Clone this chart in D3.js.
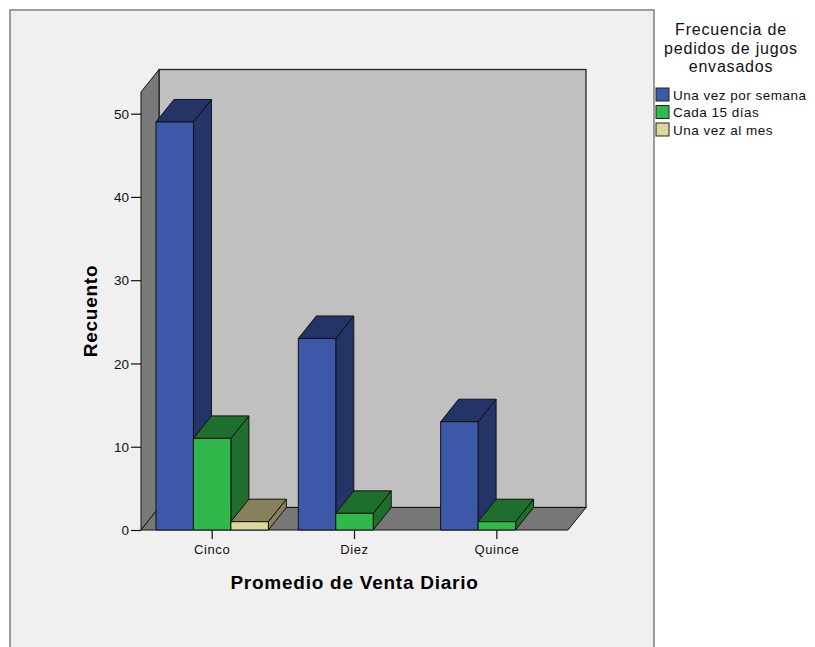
<!DOCTYPE html>
<html>
<head>
<meta charset="utf-8">
<script src="https://cdn.jsdelivr.net/npm/d3@7"></script>
<style>
  body { margin: 0; background: #ffffff; }
  text { font-family: "Liberation Sans", Arial, sans-serif; }
</style>
</head>
<body>
<svg id="chart" width="815" height="647"></svg>
<script>
// Counts per daily-sales category, one array per order frequency
const categories = ["Cinco", "Diez", "Quince"];
const seriesNames = ["Una vez por semana", "Cada 15 días", "Una vez al mes"];
const unaVezPorSemana = [49, 23, 13];
const cada15Dias = [11, 2, 1];
const unaVezAlMes = [1, 0, 0];
const yTicks = [0, 10, 20, 30, 40, 50];
const legendTitle = ["Frecuencia de", "pedidos de jugos", "envasados"];

const seriesValues = [unaVezPorSemana, cada15Dias, unaVezAlMes];
const frontColors = ["#3d57a9", "#30b84b", "#dcd79b"];
const shadeColors = ["#243467", "#1e6e2d", "#86815a"];

const svg = d3.select("#chart");

// Outer chart frame
svg.append("rect")
  .attr("x", 10).attr("y", 10).attr("width", 644).attr("height", 660)
  .attr("fill", "#f0f0f0").attr("stroke", "#808080").attr("stroke-width", 1.5);

// Plot geometry: front floor edge and oblique depth offset
const plotLeft = 141, plotRight = 568, plotBase = 530, plotTop = 92;
const dx = 18, dy = 22.5;

const y = d3.scaleLinear().domain([0, 52.6]).range([plotBase, plotTop]);
const x = d3.scaleBand().domain(categories).range([plotLeft, plotRight]).paddingInner(0).paddingOuter(0);
const xs = d3.scaleBand().domain(seriesNames).range([0, x.bandwidth()]).paddingInner(0).paddingOuter(0.4);

const poly = pts => pts.map(p => p.join(",")).join(" ");

// Back wall
svg.append("rect")
  .attr("x", plotLeft + dx).attr("y", plotTop - dy)
  .attr("width", plotRight - plotLeft).attr("height", plotBase - plotTop)
  .attr("fill", "#c0c0c0").attr("stroke", "#222").attr("stroke-width", 1.3);

// Left wall
svg.append("polygon")
  .attr("points", poly([[plotLeft, plotBase], [plotLeft, plotTop], [plotLeft + dx, plotTop - dy], [plotLeft + dx, plotBase - dy]]))
  .attr("fill", "#7a7a7a").attr("stroke", "#111").attr("stroke-width", 1);

// Floor
svg.append("polygon")
  .attr("points", poly([[plotLeft, plotBase], [plotRight, plotBase], [plotRight + dx, plotBase - dy], [plotLeft + dx, plotBase - dy]]))
  .attr("fill", "#777777").attr("stroke", "#111").attr("stroke-width", 1);

// Bars, drawn left to right so nearer faces overlap correctly
categories.forEach((cat, ci) => {
  seriesNames.forEach((s, si) => {
    const v = seriesValues[si][ci];
    if (!v) return;
    const x0 = x(cat) + xs(s), x1 = x0 + xs.bandwidth();
    const yt = y(v), yb = y(0);
    const g = svg.append("g").attr("stroke", "#111").attr("stroke-width", 1).attr("stroke-linejoin", "round");
    g.append("polygon")
      .attr("points", poly([[x1, yb], [x1, yt], [x1 + dx, yt - dy], [x1 + dx, yb - dy]]))
      .attr("fill", shadeColors[si]);
    g.append("polygon")
      .attr("points", poly([[x0, yt], [x1, yt], [x1 + dx, yt - dy], [x0 + dx, yt - dy]]))
      .attr("fill", shadeColors[si]);
    g.append("rect")
      .attr("x", x0).attr("y", yt).attr("width", x1 - x0).attr("height", yb - yt)
      .attr("fill", frontColors[si]);
  });
});

// Y axis along the front edge of the left wall
const yAxis = svg.append("g").attr("transform", `translate(${plotLeft},0)`)
  .call(d3.axisLeft(y).tickValues(yTicks).tickSize(10).tickPadding(2).tickFormat(d3.format("d")));
yAxis.select(".domain").remove();
yAxis.selectAll("line").attr("stroke", "#111").attr("stroke-width", 1.2);
yAxis.selectAll("text").attr("font-size", 13.5).attr("fill", "#111")
  .attr("font-family", "'Liberation Sans', Arial, sans-serif").attr("dy", "0.35em");

// X axis below the floor
const xAxis = svg.append("g").attr("transform", `translate(0,${plotBase})`)
  .call(d3.axisBottom(x).tickSize(9).tickPadding(6));
xAxis.select(".domain").remove();
xAxis.selectAll("line").attr("stroke", "#111").attr("stroke-width", 1.2);
xAxis.selectAll("text").attr("font-size", 13).attr("fill", "#111")
  .attr("letter-spacing", 0.6)
  .attr("font-family", "'Liberation Sans', Arial, sans-serif");

// Axis titles
svg.append("text")
  .attr("x", (plotLeft + plotRight) / 2).attr("y", 589)
  .attr("text-anchor", "middle").attr("font-size", 19).attr("font-weight", "bold")
  .attr("letter-spacing", 0.75).attr("fill", "#000")
  .text("Promedio de Venta Diario");

svg.append("text")
  .attr("transform", `translate(97,${(plotTop + plotBase) / 2}) rotate(-90)`)
  .attr("text-anchor", "middle").attr("font-size", 19).attr("font-weight", "bold")
  .attr("letter-spacing", 0.75).attr("fill", "#000")
  .text("Recuento");

// Legend
const legend = svg.append("g");
legend.selectAll("text.title").data(legendTitle).join("text")
  .attr("class", "title")
  .attr("x", 731).attr("y", (d, i) => 35 + i * 18.5)
  .attr("text-anchor", "middle").attr("font-size", 16).attr("letter-spacing", 0.8)
  .attr("fill", "#111")
  .text(d => d);

const items = legend.selectAll("g.item").data(seriesNames).join("g")
  .attr("class", "item")
  .attr("transform", (d, i) => `translate(656,${88 + i * 17.5})`);
items.append("rect")
  .attr("width", 13).attr("height", 13)
  .attr("fill", (d, i) => frontColors[i]).attr("stroke", "#222").attr("stroke-width", 1);
items.append("text")
  .attr("x", 17).attr("y", 11.5)
  .attr("font-size", 13.5).attr("letter-spacing", 0.5).attr("fill", "#111")
  .text(d => d);
</script>
</body>
</html>
